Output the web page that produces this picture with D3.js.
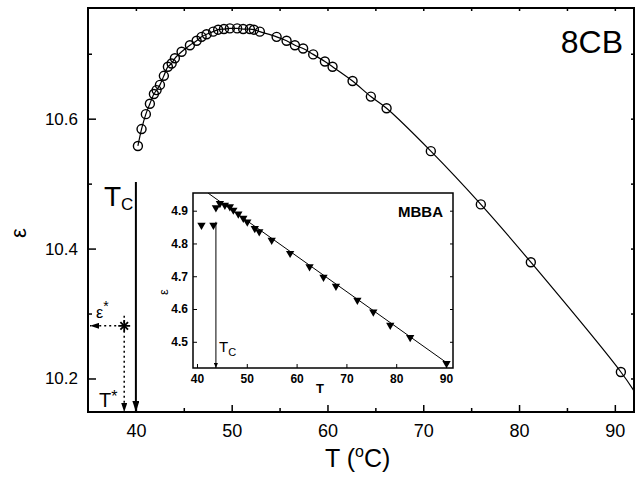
<!DOCTYPE html>
<html>
<head>
<meta charset="utf-8">
<script src="https://cdn.jsdelivr.net/npm/d3@7"></script>
<style>
  body { margin: 0; background: #fff; }
  svg { font-family: "Liberation Sans", Arial, sans-serif; }
  .tick line { stroke: #000; }
</style>
</head>
<body>
<svg id="chart" width="639" height="478"></svg>
<script>
// 8CB dielectric constant vs temperature (open circles)
const temp8CB = [40.21, 40.59, 41.04, 41.46, 41.88, 42.16, 42.51, 42.92, 43.34, 43.73,
  44.07, 44.77, 45.64, 46.34, 46.86, 47.38, 48.07, 48.59, 49.19, 49.81,
  50.57, 51.20, 51.90, 52.32, 52.94, 54.69, 55.73, 56.60, 57.46, 58.51,
  59.73, 60.53, 62.62, 64.53, 66.17, 70.79, 76.01, 81.23, 90.63];
const eps8CB = [10.558, 10.584, 10.607, 10.623, 10.638, 10.644, 10.652, 10.666, 10.680, 10.685,
  10.693, 10.703, 10.713, 10.720, 10.726, 10.730, 10.734, 10.737, 10.738, 10.739,
  10.739, 10.738, 10.738, 10.737, 10.734, 10.726, 10.720, 10.713, 10.708, 10.699,
  10.688, 10.680, 10.658, 10.634, 10.616, 10.550, 10.468, 10.379, 10.210];
// fit curve continues past the last point
const fitEndT = 92, fitEndEps = 10.181;

// MBBA inset (filled down triangles)
const tempMBBA = [40.9, 43.3, 43.8, 44.6, 45.6, 46.6, 47.3, 48.3, 49.3, 50.1, 51.6,
  52.5, 55.0, 58.7, 62.6, 65.4, 67.9, 72.2, 75.4, 78.8, 82.8, 90.1];
const epsMBBA = [4.856, 4.856, 4.909, 4.922, 4.917, 4.912, 4.902, 4.890, 4.877, 4.866, 4.846,
  4.836, 4.810, 4.770, 4.729, 4.697, 4.670, 4.627, 4.591, 4.551, 4.513, 4.434];
const fitMBBA = [[42.2, 4.954], [90.5, 4.432]];

const tc8CB = 40.0, tcMBBA = 43.8;
const tStar = 38.78, epsStar = 10.281;

const xTicks = [40, 50, 60, 70, 80, 90];
const xMinor = [45, 55, 65, 75, 85];
const yTicks = [10.2, 10.4, 10.6];
const yMinor = [10.3, 10.5, 10.7];
const insetXTicks = [40, 50, 60, 70, 80, 90];
const insetYTicks = [4.5, 4.6, 4.7, 4.8, 4.9];

const svg = d3.select('#chart');

// main plot area
const mL = 88, mR = 634, mT = 8, mB = 412;
const x = d3.scaleLinear().domain([35, 92]).range([mL, mR]);
const y = d3.scaleLinear().domain([10.1484, 10.7704]).range([mB, mT]);

const defs = svg.append('defs');
defs.append('clipPath').attr('id', 'clipMain')
  .append('rect').attr('x', mL).attr('y', mT).attr('width', mR - mL).attr('height', mB - mT);
const arrow = (id, w, h) => defs.append('marker')
  .attr('id', id).attr('viewBox', `0 0 ${h} ${w}`)
  .attr('refX', h).attr('refY', w / 2)
  .attr('markerWidth', h).attr('markerHeight', w)
  .attr('markerUnits', 'userSpaceOnUse').attr('orient', 'auto')
  .append('path').attr('d', `M0,0L${h},${w / 2}L0,${w}Z`).attr('fill', '#000');
arrow('arrowBig', 7, 11);
arrow('arrowSmall', 6, 9);
arrow('arrowTiny', 4, 5);

// axes (ticks inward)
const drawAxis = (axis, tr, cls) => {
  const g = svg.append('g').attr('class', cls).attr('transform', tr).call(axis);
  g.select('.domain').remove();
  return g;
};
drawAxis(d3.axisBottom(x).tickValues(xTicks).tickSize(-7).tickPadding(12), `translate(0,${mB})`, 'x-axis')
  .selectAll('text').attr('font-size', 18).attr('fill', '#000');
drawAxis(d3.axisBottom(x).tickValues(xMinor).tickSize(-4).tickFormat(''), `translate(0,${mB})`, 'x-minor');
drawAxis(d3.axisTop(x).tickValues(xTicks.concat(xMinor)).tickSize(-3).tickFormat(''), `translate(0,${mT})`, 'x-top');
drawAxis(d3.axisLeft(y).tickValues(yTicks).tickSize(-8).tickPadding(10).tickFormat(d3.format('.1f')), `translate(${mL},0)`, 'y-axis')
  .selectAll('text').attr('font-size', 17).attr('fill', '#000');
drawAxis(d3.axisLeft(y).tickValues(yMinor).tickSize(-4).tickFormat(''), `translate(${mL},0)`, 'y-minor');
drawAxis(d3.axisRight(y).tickValues(yTicks.concat(yMinor)).tickSize(-3).tickFormat(''), `translate(${mR},0)`, 'y-right');
svg.selectAll('.tick line').attr('stroke-width', 1.5);

svg.append('rect')
  .attr('x', mL).attr('y', mT).attr('width', mR - mL).attr('height', mB - mT)
  .attr('fill', 'none').attr('stroke', '#000').attr('stroke-width', 2);

// 8CB data and fit
const pts8CB = temp8CB.map((t, i) => [t, eps8CB[i]]);
const line = d3.line().x(d => x(d[0])).y(d => y(d[1])).curve(d3.curveCatmullRom);
svg.append('path')
  .datum(pts8CB.concat([[fitEndT, fitEndEps]]))
  .attr('clip-path', 'url(#clipMain)')
  .attr('d', line).attr('fill', 'none').attr('stroke', '#000').attr('stroke-width', 1.2);
svg.append('g').selectAll('circle').data(pts8CB).join('circle')
  .attr('cx', d => x(d[0])).attr('cy', d => y(d[1])).attr('r', 4.5)
  .attr('fill', 'none').attr('stroke', '#000').attr('stroke-width', 1.4);

svg.append('text').attr('x', 623).attr('y', 53).attr('text-anchor', 'end')
  .attr('font-size', 32).text('8CB');

// Tc arrow
svg.append('line')
  .attr('x1', x(tc8CB)).attr('x2', x(tc8CB)).attr('y1', 182).attr('y2', mB)
  .attr('stroke', '#000').attr('stroke-width', 2).attr('marker-end', 'url(#arrowBig)');
const tcLabel = svg.append('text').attr('x', 104).attr('y', 206).attr('font-size', 28);
tcLabel.append('tspan').text('T');
tcLabel.append('tspan').attr('font-size', 17).attr('dy', 4).text('C');

// T*, eps* construction
svg.append('line')
  .attr('x1', x(tStar) - 8).attr('x2', mL + 2).attr('y1', y(epsStar)).attr('y2', y(epsStar))
  .attr('stroke', '#000').attr('stroke-width', 1.5).attr('stroke-dasharray', '2,3')
  .attr('marker-end', 'url(#arrowSmall)');
svg.append('line')
  .attr('x1', x(tStar)).attr('x2', x(tStar)).attr('y1', y(epsStar) - 10).attr('y2', mB)
  .attr('stroke', '#000').attr('stroke-width', 1.5).attr('stroke-dasharray', '2,3')
  .attr('marker-end', 'url(#arrowSmall)');
[[d3.symbolPlus, 48], [d3.symbolTimes, 40]].forEach(([type, size]) => {
  svg.append('path')
    .attr('d', d3.symbol(type, size)())
    .attr('transform', `translate(${x(tStar)},${y(epsStar)})`)
    .attr('fill', 'none').attr('stroke', '#000').attr('stroke-width', 1.8);
});
const epsLabel = svg.append('text').attr('x', 96).attr('y', 318).attr('font-size', 16);
epsLabel.append('tspan').text('ε');
epsLabel.append('tspan').attr('dy', -7).attr('font-size', 14).text('*');
const tLabel = svg.append('text').attr('x', 99).attr('y', 407).attr('font-size', 20);
tLabel.append('tspan').text('T');
tLabel.append('tspan').attr('dy', -5).attr('font-size', 16).text('*');

// main axis titles
const xTitle = svg.append('text').attr('x', 325).attr('y', 467).attr('font-size', 25);
xTitle.append('tspan').text('T  (');
xTitle.append('tspan').attr('dy', -10).attr('font-size', 16).text('o');
xTitle.append('tspan').attr('dy', 10).text('C)');
svg.append('text').attr('transform', 'translate(26,233) rotate(-90)')
  .attr('text-anchor', 'middle').attr('font-size', 22).text('ε');

// ---- inset (MBBA) ----
const iL = 193, iR = 453, iT = 193, iB = 368;
const xi = d3.scaleLinear().domain([39.2, 91.4]).range([iL, iR]);
const yi = d3.scaleLinear().domain([4.42, 4.954]).range([iB, iT]);

svg.append('rect').attr('x', iL).attr('y', iT).attr('width', iR - iL).attr('height', iB - iT)
  .attr('fill', '#fff');
defs.append('clipPath').attr('id', 'clipInset')
  .append('rect').attr('x', iL).attr('y', iT).attr('width', iR - iL).attr('height', iB - iT);

const ix = drawAxis(d3.axisBottom(xi).tickValues(insetXTicks).tickSize(-4).tickPadding(6), `translate(0,${iB})`, 'ix-axis');
ix.selectAll('text').attr('font-size', 12).attr('font-weight', 'bold').attr('fill', '#000');
const iy = drawAxis(d3.axisLeft(yi).tickValues(insetYTicks).tickSize(-4).tickPadding(5).tickFormat(d3.format('.1f')), `translate(${iL},0)`, 'iy-axis');
iy.selectAll('text').attr('font-size', 12).attr('font-weight', 'bold').attr('fill', '#000');
drawAxis(d3.axisRight(yi).tickValues(insetYTicks).tickSize(-3).tickFormat(''), `translate(${iR},0)`, 'iy-right');
ix.selectAll('line').attr('stroke-width', 1);
iy.selectAll('line').attr('stroke-width', 1);

svg.append('rect').attr('x', iL).attr('y', iT).attr('width', iR - iL).attr('height', iB - iT)
  .attr('fill', 'none').attr('stroke', '#000').attr('stroke-width', 1.5);

svg.append('path').datum(fitMBBA)
  .attr('clip-path', 'url(#clipInset)')
  .attr('d', d3.line().x(d => xi(d[0])).y(d => yi(d[1])))
  .attr('fill', 'none').attr('stroke', '#000').attr('stroke-width', 1);

svg.append('line')
  .attr('x1', xi(tcMBBA)).attr('x2', xi(tcMBBA)).attr('y1', yi(4.866)).attr('y2', iB)
  .attr('stroke', '#000').attr('stroke-width', 1).attr('marker-end', 'url(#arrowTiny)');

svg.append('g').selectAll('path').data(tempMBBA.map((t, i) => [t, epsMBBA[i]])).join('path')
  .attr('d', d3.symbol(d3.symbolTriangle, 30)())
  .attr('transform', d => `translate(${xi(d[0])},${yi(d[1])}) rotate(180)`)
  .attr('fill', '#000');

svg.append('text').attr('x', 443).attr('y', 217).attr('text-anchor', 'end')
  .attr('font-size', 15).attr('font-weight', 'bold').text('MBBA');
const tcInset = svg.append('text').attr('x', 219).attr('y', 352).attr('font-size', 15);
tcInset.append('tspan').text('T');
tcInset.append('tspan').attr('font-size', 11).attr('dy', 4).text('C');
svg.append('text').attr('x', 320).attr('y', 393).attr('text-anchor', 'middle')
  .attr('font-size', 13).attr('font-weight', 'bold').text('T');
svg.append('text').attr('transform', 'translate(168,292) rotate(-90)')
  .attr('text-anchor', 'middle').attr('font-size', 13).text('ε');
</script>
</body>
</html>
